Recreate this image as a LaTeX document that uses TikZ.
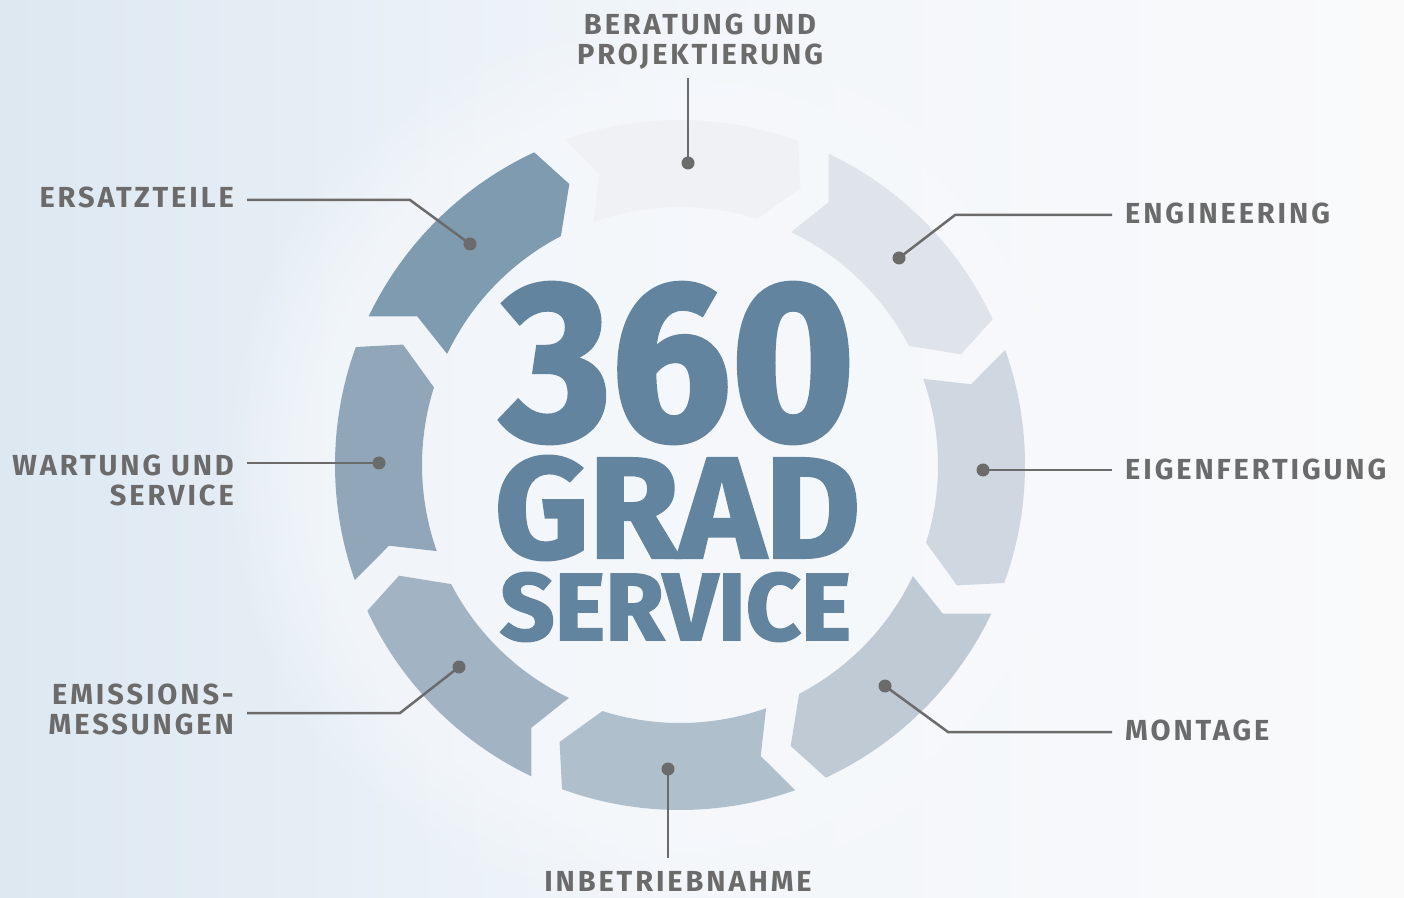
\documentclass[tikz,border=0pt]{standalone}
\usepackage{fontspec}
\usepackage{graphicx}
\setmainfont{Fira Sans}
\newfontfamily\labelfont{Fira Sans}[UprightFont=* Bold, LetterSpace=10]
\newfontfamily\bigfont{Fira Sans}[UprightFont=* Bold, FakeBold=2]
\usetikzlibrary{calc,fadings}
\definecolor{bgL}{HTML}{DDE8F1}
\definecolor{bgM}{HTML}{F2F6FA}
\definecolor{bgR}{HTML}{FAFAFB}
\definecolor{glow}{HTML}{F7F9FC}
\definecolor{segA}{HTML}{EFF1F4}
\definecolor{segB}{HTML}{DFE3EA}
\definecolor{segC}{HTML}{CFD7E0}
\definecolor{segD}{HTML}{BFCAD5}
\definecolor{segE}{HTML}{B0BFCC}
\definecolor{segF}{HTML}{A2B3C4}
\definecolor{segG}{HTML}{91A6B9}
\definecolor{segH}{HTML}{7F9BAF}
\definecolor{bigblue}{HTML}{63849E}
\definecolor{lblgray}{HTML}{6B6B6B}
\tikzset{
  lbl/.style={font=\labelfont\fontsize{29}{30}\selectfont, text=lblgray, inner sep=0pt},
  dotnode/.style={circle, fill=lblgray, minimum size=13pt, inner sep=0pt},
  conn/.style={draw=lblgray, line width=2.5pt},
  bigtxt/.style={text=bigblue, inner sep=0pt, font=\bigfont}
}
\begin{document}
\begin{tikzpicture}[x=1pt,y=1pt]
\useasboundingbox (0,0) rectangle (1404,897);
\shade[left color=bgL, right color=bgR, middle color=bgM] (0,0) rectangle (1404,897);
\fill[glow, opacity=0.6, path fading=circle with fuzzy edge 20 percent] (680,432) circle (460);
% ring segments
\begin{scope}[shift={(680,432)}]
\foreach \t/\c in {89.5/segA, 44.5/segB, -0.5/segC, -45.5/segD, -90.5/segE, -135.5/segF, 179.5/segG, 134.5/segH}{
  \pgfmathsetmacro\sTr{\t+20}
  \pgfmathsetmacro\sLo{\t-19.5}
  \pgfmathsetmacro\sTp{\t-23}
  \pgfmathsetmacro\sLi{\t-17}
  \pgfmathsetmacro\sNt{\t+16}
  \fill[\c] (\sTr:345) arc[start angle=\sTr, end angle=\sLo, radius=345]
     -- (\sTp:302) -- (\sLi:258) arc[start angle=\sLi, end angle=\sTr, radius=258]
     -- (\sNt:302) -- cycle;
}
\end{scope}
% big title
\node[bigtxt] (t360) at (678,534) {\resizebox*{354pt}{160pt}{360}};
\node[bigtxt] (tgrad) at (677.5,389) {\resizebox*{365pt}{104pt}{GRAD}};
\node[bigtxt] (tserv) at (675.5,290) {\resizebox*{351pt}{69pt}{SERVICE}};
% dots
\node[dotnode] (d1) at (688,734) {};
\node[dotnode] (d2) at (899,639) {};
\node[dotnode] (d3) at (983,427) {};
\node[dotnode] (d4) at (885,211) {};
\node[dotnode] (d5) at (668,128) {};
\node[dotnode] (d6) at (459,230) {};
\node[dotnode] (d7) at (379,434) {};
\node[dotnode] (d8) at (470,653) {};
% labels
\node[lbl, anchor=north, align=center] (l1) at (700,883) {BERATUNG UND\\PROJEKTIERUNG};
\node[lbl, anchor=north west] (l2) at (1125,694) {ENGINEERING};
\node[lbl, anchor=north west] (l3) at (1125,438) {EIGENFERTIGUNG};
\node[lbl, anchor=north west] (l4) at (1125,177) {MONTAGE};
\node[lbl, anchor=north] (l5) at (678,26) {INBETRIEBNAHME};
\node[lbl, anchor=north east, align=right] (l6) at (234,213) {EMISSIONS-\\MESSUNGEN};
\node[lbl, anchor=north east, align=right] (l7) at (234,442) {WARTUNG UND\\SERVICE};
\node[lbl, anchor=north east] (l8) at (234,710) {ERSATZTEILE};
% connector points
\coordinate (e1) at (688,819);
\coordinate (k2) at (955,682);
\coordinate (e2) at (1112,682);
\coordinate (e3) at (1112,427);
\coordinate (k4) at (948,165);
\coordinate (e4) at (1112,165);
\coordinate (e5) at (668,39);
\coordinate (k6) at (400,184);
\coordinate (e6) at (247,184);
\coordinate (e7) at (247,434);
\coordinate (k8) at (410,697);
\coordinate (e8) at (247,697);
% connectors
\draw[conn] (d1.center) -- (e1);
\draw[conn] (d2.center) -- (k2) -- (e2);
\draw[conn] (d3.center) -- (e3);
\draw[conn] (d4.center) -- (k4) -- (e4);
\draw[conn] (d5.center) -- (e5);
\draw[conn] (d6.center) -- (k6) -- (e6);
\draw[conn] (d7.center) -- (e7);
\draw[conn] (d8.center) -- (k8) -- (e8);
\end{tikzpicture}
\end{document}
